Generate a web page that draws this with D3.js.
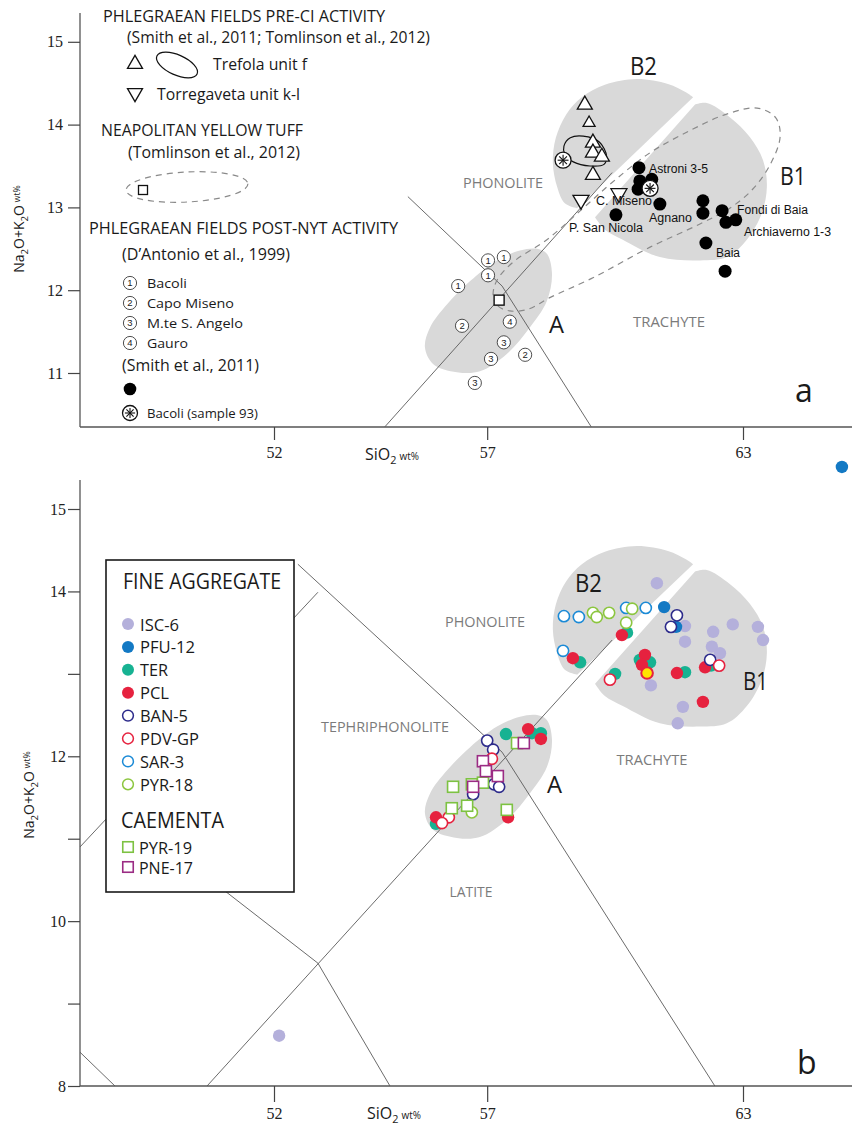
<!DOCTYPE html>
<html>
<head>
<meta charset="utf-8">
<script src="https://cdn.jsdelivr.net/npm/d3@7"></script>
<style>
  body { margin: 0; background: #fff; }
  svg { display: block; }
</style>
</head>
<body>
<svg id="chart" width="852" height="1127"></svg>
<script>
// ---------------- data (SiO2 wt%, Na2O+K2O wt%) ----------------

// panel a : Phlegraean Fields reference data
const trefolaUnitF = [[59.29,14.24],[59.39,14.02],[59.48,13.78],[59.48,13.66],[59.69,13.61],[59.48,13.39]];
const torregavetaKL = [[59.20,13.09],[60.09,13.17]];
const bacoliSample93 = [[58.78,13.57],[60.82,13.23]];
const smith2011 = [[60.56,13.48],[60.58,13.32],[60.86,13.34],[60.54,13.22],[61.05,13.04],[60.02,12.91],
  [62.06,13.08],[62.06,12.93],[62.51,12.96],[62.60,12.82],[62.83,12.85],[62.13,12.57],[62.58,12.23]];
const bacoliPostNYT = [[57.02,12.36],[57.39,12.40],[57.02,12.18],[56.32,12.05]];
const capoMiseno = [[56.41,11.57],[57.89,11.22]];
const monteSAngelo = [[57.39,11.37],[57.09,11.17],[56.71,10.88]];
const gauro = [[57.53,11.62]];
const nytSamples = [[57.28,11.88]];
const trefolaOutline = [[58.80,13.74],[58.95,13.84],[59.25,13.86],[59.63,13.79],[59.80,13.62],[59.74,13.52],
  [59.41,13.50],[59.02,13.55],[58.82,13.64]];
const nytOutline = [[57.14,11.94],[57.25,11.81],[57.53,11.75],[57.96,11.77],[58.47,11.91],[59.48,12.15],
  [60.82,12.52],[61.99,12.80],[62.69,12.99],[63.21,13.21],[63.63,13.51],[63.87,13.85],[63.77,14.08],
  [63.33,14.20],[62.58,14.12],[61.69,13.91],[60.82,13.66],[59.95,13.31],[59.25,12.99],[58.40,12.61],
  [57.61,12.34],[57.23,12.12]];

// compositional groups A, B1, B2 (shaded)
const groupA = [[58.40,12.44],[58.52,12.20],[58.40,11.87],[58.00,11.55],[57.46,11.23],[56.83,11.02],
  [56.29,11.01],[55.73,11.11],[55.54,11.31],[55.66,11.55],[56.06,11.83],[56.60,12.11],[57.23,12.36],
  [57.77,12.48],[58.17,12.50]];
const groupB1 = [[61.87,14.24],[59.53,12.88],[59.76,12.73],[60.18,12.61],[61.05,12.40],[61.99,12.36],
  [62.62,12.40],[63.09,12.61],[63.44,12.93],[63.56,13.25],[63.47,13.57],[63.16,13.85],[62.69,14.09],[62.15,14.26]];
const groupB2 = [[61.83,14.33],[59.11,12.99],[58.82,13.05],[58.64,13.25],[58.54,13.54],[58.61,13.84],
  [58.85,14.12],[59.22,14.33],[59.76,14.48],[60.51,14.55],[61.24,14.49],[61.66,14.39]];

// TAS field boundaries
const tasTopRise = [[54.60,10.35],[59.93,13.42]];
const tasTopFall = [[55.14,13.13],[57.35,12.05],[59.44,10.35]];
const tasBotRise = [[50.43,8],[59.93,13.41]];
const tasBotFall = [[52.56,14.33],[57.35,12.05],[62.34,8]];
const tasBotRiseLeft = [[47.45,10.90],[53.03,13.99]];
const tasBotFallMid = [[48.4,11.35],[53.03,9.49],[54.72,8]];
const tasBotCorner = [[47.45,8.41],[48.27,8]];

// panel b : fine aggregate samples
const isc6 = [[60.98,14.10],[61.64,13.58],[62.30,13.51],[62.76,13.60],[63.35,13.57],[63.47,13.41],
  [61.64,13.39],[62.27,13.33],[62.46,13.25],[60.84,12.86],[61.59,12.60],[61.47,12.40],[52.12,8.61]];
const pfu12 = [[61.15,13.81],[61.43,13.57],[65.32,15.51]];
const ter = [[60.28,13.50],[59.18,13.14],[60.58,13.17],[60.82,13.14],[60.00,13.00],[61.64,13.02],
  [62.25,13.10],[57.44,12.27],[58.05,12.28],[58.26,12.28],[55.80,11.18]];
const pcl = [[60.16,13.47],[59.01,13.19],[60.70,13.23],[60.63,13.11],[61.45,13.01],[62.11,13.08],
  [62.06,12.66],[57.96,12.33],[58.26,12.21],[55.80,11.26],[57.49,11.26]];
const pclYellow = [[60.75,13.01]];
const ban5 = [[61.45,13.71],[61.31,13.57],[62.23,13.17],[57.00,12.19],[57.14,12.08],[57.16,11.66],
  [57.28,11.63],[56.67,11.54]];
const pdvgp = [[59.88,12.93],[62.44,13.10],[57.11,11.97],[56.10,11.26],[55.94,11.19]];
const sar3 = [[58.80,13.70],[59.15,13.69],[60.26,13.80],[60.72,13.80],[58.78,13.28]];
const pyr18 = [[59.48,13.74],[59.57,13.69],[59.86,13.74],[60.40,13.79],[60.26,13.62],[56.64,11.32]];
// caementa
const pyr19 = [[57.70,12.16],[56.20,11.63],[56.64,11.66],[56.90,11.68],[56.17,11.37],[56.53,11.40],[57.46,11.35]];
const pne17 = [[57.86,12.16],[56.90,11.94],[56.97,11.82],[57.25,11.76],[56.67,11.63]];

const fineNames = ["ISC-6","PFU-12","TER","PCL","BAN-5","PDV-GP","SAR-3","PYR-18"];
const fineSeries = [isc6, pfu12, ter, pcl, ban5, pdvgp, sar3, pyr18];
const caementaNames = ["PYR-19","PNE-17"];
const caementaSeries = [pyr19, pne17];

const xTicks = [52, 57, 63];
const yTicksTop = [11, 12, 13, 14, 15];
const yTicksBot = [8, 9, 10, 11, 12, 13, 14, 15];
const yLabelsBot = [8, 10, 12, 14, 15];

// ---------------- styles ----------------
const fineColors = ["#b4b0db","#1379c4","#17b292","#e6223f","#2d2b8b","#e6223f","#1b8ad6","#8cc63f"];
const fineFilled = [true, true, true, true, false, false, false, false];
const caementaColors = ["#7dc242","#9b2c84"];
const SHADE = "#d9d9d9";
const LINE = "#5a5a5a";
const REGION_TXT = "#7b7b7b";
const SANS = "'Open Sans', 'Noto Sans', sans-serif";
const ARIAL = "'Liberation Sans', Arial, sans-serif";
const SERIF = "'Liberation Serif', 'Times New Roman', serif";

const svg = d3.select("#chart");

const xTop = d3.scaleLinear().domain([52, 63]).range([274, 743]);
const yTop = d3.scaleLinear().domain([11, 15]).range([373, 41.8]);
const xBot = d3.scaleLinear().domain([52, 63]).range([274, 743]);
const yBot = d3.scaleLinear().domain([8, 15]).range([1086, 509]);

function txt(g, s, x, y, o = {}) {
  const t = g.append("text").attr("x", x).attr("y", y)
    .attr("font-family", o.family || SANS)
    .attr("font-size", o.size || 14)
    .attr("fill", o.fill || "#1a1a1a")
    .attr("text-anchor", o.anchor || "start")
    .text(s);
  if (o.width) t.attr("textLength", o.width).attr("lengthAdjust", "spacingAndGlyphs");
  return t;
}

function closedPath(pts, xs, ys) {
  return d3.line().x(d => xs(d[0])).y(d => ys(d[1])).curve(d3.curveCatmullRomClosed.alpha(0.5))(pts);
}
// region bounded by one straight cut (first two points) and a smooth curve
function cutPath(pts, xs, ys) {
  const corner = pts[0];
  const rest = pts.slice(1).concat([corner]);
  const p = d3.line().x(d => xs(d[0])).y(d => ys(d[1])).curve(d3.curveCatmullRom.alpha(0.5))(rest);
  return `M${xs(corner[0])},${ys(corner[1])}L` + p.slice(1) + "Z";
}
function polyline(g, pts, xs, ys) {
  g.append("path").attr("d", d3.line().x(d => xs(d[0])).y(d => ys(d[1]))(pts))
    .attr("fill", "none").attr("stroke", LINE).attr("stroke-width", 0.9);
}
function triPath(s, down) {
  const h = s * 0.866, k = down ? -1 : 1;
  return `M0,${-k * h * 2 / 3}L${s / 2},${k * h / 3}L${-s / 2},${k * h / 3}Z`;
}
function triangle(g, x, y, s, down) {
  g.append("path").attr("transform", `translate(${x},${y})`).attr("d", triPath(s, down))
    .attr("fill", "#fff").attr("stroke", "#111").attr("stroke-width", 1.3);
}
function starCircle(g, x, y, r) {
  const s = g.append("g").attr("transform", `translate(${x},${y})`);
  s.append("circle").attr("r", r).attr("fill", "#fff").attr("stroke", "#111").attr("stroke-width", 1.3);
  [0, 45, 90, 135].forEach(a => {
    const c = Math.cos(a * Math.PI / 180) * r * 0.68, sn = Math.sin(a * Math.PI / 180) * r * 0.68;
    s.append("line").attr("x1", -c).attr("y1", -sn).attr("x2", c).attr("y2", sn)
      .attr("stroke", "#111").attr("stroke-width", 1.1);
  });
}
function circledNum(g, x, y, n) {
  g.append("circle").attr("cx", x).attr("cy", y).attr("r", 6.6)
    .attr("fill", "#fff").attr("stroke", "#222").attr("stroke-width", 0.8);
  g.append("text").attr("x", x).attr("y", y).attr("dy", "0.36em").attr("text-anchor", "middle")
    .attr("font-family", ARIAL).attr("font-size", 9.5).attr("fill", "#222").text(n);
}
function square(g, x, y, s, color, sw) {
  g.append("rect").attr("x", x - s / 2).attr("y", y - s / 2).attr("width", s).attr("height", s)
    .attr("fill", "#fff").attr("stroke", color).attr("stroke-width", sw);
}
function chemText(g, x, y, parts, size, anchor, transform) {
  const t = g.append("text").attr("x", x).attr("y", y).attr("font-family", SANS)
    .attr("font-size", size).attr("fill", "#1a1a1a").attr("text-anchor", anchor || "start");
  if (transform) t.attr("transform", transform);
  parts.forEach(p => {
    const ts = t.append("tspan").text(p[0]);
    if (p[1] === "sub") ts.attr("font-size", size * 0.68).attr("dy", size * 0.28);
    else if (p[1] === "up") ts.attr("font-size", size * 0.62).attr("dy", -size * 0.28).attr("dx", 3);
    else if (p[1] === "back") ts.attr("dy", -size * 0.28);
  });
  return t;
}

// ====================== PANEL a ======================
const gA = svg.append("g");

// shaded groups
gA.append("path").attr("d", closedPath(groupA, xTop, yTop)).attr("fill", SHADE);
gA.append("path").attr("d", cutPath(groupB1, xTop, yTop)).attr("fill", SHADE);
gA.append("path").attr("d", cutPath(groupB2, xTop, yTop)).attr("fill", SHADE);

// TAS boundaries
polyline(gA, tasTopRise, xTop, yTop);
polyline(gA, tasTopFall, xTop, yTop);

// NYT field and Trefola field
gA.append("path").attr("d", closedPath(nytOutline, xTop, yTop)).attr("fill", "none")
  .attr("stroke", "#8a8a8a").attr("stroke-width", 1.2).attr("stroke-dasharray", "6,5");
gA.append("path").attr("d", closedPath(trefolaOutline, xTop, yTop)).attr("fill", "none")
  .attr("stroke", "#111").attr("stroke-width", 1.2);

// axes
gA.append("line").attr("x1", 80).attr("x2", 852).attr("y1", 427).attr("y2", 427)
  .attr("stroke", "#555").attr("stroke-width", 1.3);
gA.append("line").attr("x1", 80).attr("x2", 80).attr("y1", 13).attr("y2", 427)
  .attr("stroke", "#555").attr("stroke-width", 1.3);
const axXTop = gA.append("g").attr("transform", "translate(0,427)")
  .call(d3.axisBottom(xTop).tickValues(xTicks).tickSize(13).tickPadding(7).tickSizeOuter(0)
    .tickFormat(d3.format("d")));
const axYTop = gA.append("g").attr("transform", "translate(80,0)")
  .call(d3.axisLeft(yTop).tickValues(yTicksTop).tickSize(12).tickPadding(5).tickSizeOuter(0)
    .tickFormat(d3.format("d")));
[axXTop, axYTop].forEach(a => {
  a.select(".domain").remove();
  a.selectAll("line").attr("stroke", "#444").attr("stroke-width", 1.2);
  a.selectAll("text").attr("font-family", SERIF).attr("font-size", 16).attr("fill", "#222");
});

// D'Antonio et al. 1999 samples
bacoliPostNYT.forEach(d => circledNum(gA, xTop(d[0]), yTop(d[1]), "1"));
capoMiseno.forEach(d => circledNum(gA, xTop(d[0]), yTop(d[1]), "2"));
monteSAngelo.forEach(d => circledNum(gA, xTop(d[0]), yTop(d[1]), "3"));
gauro.forEach(d => circledNum(gA, xTop(d[0]), yTop(d[1]), "4"));
nytSamples.forEach(d => square(gA, xTop(d[0]), yTop(d[1]), 10, "#111", 1.4));

// Smith et al. 2011
gA.selectAll(".smith").data(smith2011).join("circle")
  .attr("cx", d => xTop(d[0])).attr("cy", d => yTop(d[1])).attr("r", 6.5).attr("fill", "#000");
bacoliSample93.forEach(d => starCircle(gA, xTop(d[0]), yTop(d[1]), 8));
trefolaUnitF.forEach((d, i) => triangle(gA, xTop(d[0]), yTop(d[1]), i === 1 ? 12 : 15, false));
torregavetaKL.forEach(d => triangle(gA, xTop(d[0]), yTop(d[1]), 16, true));

// callouts
[["Astroni 3-5", 649, 173, 59], ["C. Miseno", 596, 205, 56], ["Agnano", 649, 222, 43],
 ["P. San Nicola", 569, 232, 74], ["Fondi di Baia", 737, 214, 71], ["Archiaverno 1-3", 744, 236, 87],
 ["Baia", 716, 257, 24]].forEach(c => txt(gA, c[0], c[1], c[2], { family: ARIAL, size: 12.5, width: c[3], fill: "#111" }));

// region names
txt(gA, "PHONOLITE", 503, 188, { size: 15, anchor: "middle", width: 80, fill: REGION_TXT });
txt(gA, "TRACHYTE", 669, 327, { size: 15, anchor: "middle", width: 72, fill: REGION_TXT });
txt(gA, "B2", 630, 75, { size: 25, width: 27 });
txt(gA, "B1", 780, 185, { size: 25, width: 26 });
txt(gA, "A", 549, 333, { size: 23, width: 15 });
txt(gA, "a", 795, 402, { size: 32 });

// legend of panel a
txt(gA, "PHLEGRAEAN FIELDS PRE-CI ACTIVITY", 103, 22, { size: 15.5, width: 282 });
txt(gA, "(Smith et al., 2011; Tomlinson et al., 2012)", 127, 43, { size: 15.5, width: 303 });
triangle(gA, 135, 64, 15, false);
gA.append("ellipse").attr("cx", 177).attr("cy", 65).attr("rx", 22).attr("ry", 10)
  .attr("transform", "rotate(24,177,65)").attr("fill", "none").attr("stroke", "#111").attr("stroke-width", 1.2);
txt(gA, "Trefola unit f", 213, 70, { size: 16, width: 94 });
triangle(gA, 135, 93, 15, true);
txt(gA, "Torregaveta unit k-l", 157, 100, { size: 16, width: 143 });
txt(gA, "NEAPOLITAN YELLOW TUFF", 101, 136, { size: 16, width: 202 });
txt(gA, "(Tomlinson et al., 2012)", 128, 158, { size: 16, width: 172 });
gA.append("ellipse").attr("cx", 187).attr("cy", 187).attr("rx", 61).attr("ry", 15)
  .attr("transform", "rotate(-3,187,187)").attr("fill", "none")
  .attr("stroke", "#8a8a8a").attr("stroke-width", 1.2).attr("stroke-dasharray", "6,5");
square(gA, 143, 190, 9, "#111", 1.3);
txt(gA, "PHLEGRAEAN FIELDS POST-NYT ACTIVITY", 89, 234, { size: 16, width: 309 });
txt(gA, "(D\u2019Antonio et al., 1999)", 122, 260, { size: 16, width: 168 });
[["1", "Bacoli", 283, 40], ["2", "Capo Miseno", 303, 87], ["3", "M.te S. Angelo", 323, 96], ["4", "Gauro", 343, 41]]
  .forEach(r => { circledNum(gA, 130, r[2], r[0]); txt(gA, r[1], 147, r[2] + 4.5, { size: 13.5, width: r[3] }); });
txt(gA, "(Smith et al., 2011)", 122, 371, { size: 16, width: 137 });
gA.append("circle").attr("cx", 130).attr("cy", 389).attr("r", 6.3).attr("fill", "#000");
starCircle(gA, 130, 413, 7.5);
txt(gA, "Bacoli (sample 93)", 147, 418, { size: 13.5, width: 111 });

// axis titles
chemText(gA, 365, 460, [["SiO"], ["2", "sub"], ["wt%", "up"]], 16);
chemText(gA, 0, 0, [["Na"], ["2", "sub"], ["O+K", "back"], ["2", "sub"], ["O", "back"], ["wt%", "up"]], 14,
  "middle", "translate(24,229) rotate(-90)");

// ====================== PANEL b ======================
const gB = svg.append("g");

gB.append("path").attr("d", closedPath(groupA, xBot, yBot)).attr("fill", SHADE);
gB.append("path").attr("d", cutPath(groupB1, xBot, yBot)).attr("fill", SHADE);
gB.append("path").attr("d", cutPath(groupB2, xBot, yBot)).attr("fill", SHADE);

[tasBotRise, tasBotFall, tasBotRiseLeft, tasBotFallMid, tasBotCorner].forEach(l => polyline(gB, l, xBot, yBot));

gB.append("line").attr("x1", 80).attr("x2", 852).attr("y1", 1086).attr("y2", 1086)
  .attr("stroke", "#555").attr("stroke-width", 1.3);
gB.append("line").attr("x1", 80).attr("x2", 80).attr("y1", 480).attr("y2", 1086)
  .attr("stroke", "#555").attr("stroke-width", 1.3);
const axXBot = gB.append("g").attr("transform", "translate(0,1086)")
  .call(d3.axisBottom(xBot).tickValues(xTicks).tickSize(16).tickPadding(6).tickSizeOuter(0)
    .tickFormat(d3.format("d")));
const axYBot = gB.append("g").attr("transform", "translate(80,0)")
  .call(d3.axisLeft(yBot).tickValues(yTicksBot).tickSize(12).tickPadding(2).tickSizeOuter(0)
    .tickFormat(v => yLabelsBot.includes(v) ? d3.format("d")(v) : ""));
[axXBot, axYBot].forEach(a => {
  a.select(".domain").remove();
  a.selectAll("line").attr("stroke", "#444").attr("stroke-width", 1.2);
  a.selectAll("text").attr("font-family", SERIF).attr("font-size", 16).attr("fill", "#222");
});

// sample markers
fineSeries.forEach((pts, i) => {
  gB.selectAll(null).data(pts).join("circle")
    .attr("cx", d => xBot(d[0])).attr("cy", d => yBot(d[1]))
    .attr("r", fineFilled[i] ? 6.2 : 5.6)
    .attr("fill", fineFilled[i] ? fineColors[i] : "#fff")
    .attr("stroke", fineFilled[i] ? "none" : fineColors[i])
    .attr("stroke-width", 1.6);
});
gB.selectAll(null).data(pclYellow).join("circle")
  .attr("cx", d => xBot(d[0])).attr("cy", d => yBot(d[1])).attr("r", 5.8)
  .attr("fill", "#ffe600").attr("stroke", fineColors[3]).attr("stroke-width", 2);
caementaSeries.forEach((pts, i) => {
  pts.forEach(d => square(gB, xBot(d[0]), yBot(d[1]), 11, caementaColors[i], 1.6));
});

// region names
txt(gB, "PHONOLITE", 485, 627, { size: 15, anchor: "middle", width: 80, fill: REGION_TXT });
txt(gB, "TEPHRIPHONOLITE", 385, 732, { size: 15, anchor: "middle", width: 128, fill: REGION_TXT });
txt(gB, "TRACHYTE", 652, 765, { size: 15, anchor: "middle", width: 71, fill: REGION_TXT });
txt(gB, "LATITE", 471, 897, { size: 15, anchor: "middle", width: 43, fill: REGION_TXT });
txt(gB, "B2", 575, 592, { size: 25, width: 27 });
txt(gB, "B1", 743, 690, { size: 25, width: 25 });
txt(gB, "A", 547, 793, { size: 23, width: 15 });
txt(gB, "b", 797, 1074, { size: 32 });

// legend box
const lg = gB.append("g");
lg.append("rect").attr("x", 106).attr("y", 560).attr("width", 188).attr("height", 332)
  .attr("fill", "#fff").attr("stroke", "#1a1a1a").attr("stroke-width", 1.6);
txt(lg, "FINE AGGREGATE", 123, 589, { size: 22, width: 158 });
const fineWidths = [39, 55, 28, 29, 48, 59, 44, 53];
fineNames.forEach((n, i) => {
  const cy = 624 + i * 22.9;
  lg.append("circle").attr("cx", 128).attr("cy", cy).attr("r", fineFilled[i] ? 6 : 5.4)
    .attr("fill", fineFilled[i] ? fineColors[i] : "#fff")
    .attr("stroke", fineFilled[i] ? "none" : fineColors[i]).attr("stroke-width", 1.5);
  txt(lg, n, 140, cy + 6.5, { size: 16, width: fineWidths[i] });
});
txt(lg, "CAEMENTA", 121, 828, { size: 22, width: 103 });
const caeWidths = [53, 54];
caementaNames.forEach((n, i) => {
  const cy = 847 + i * 20;
  square(lg, 128, cy, 10.5, caementaColors[i], 1.6);
  txt(lg, n, 139, cy + 6.5, { size: 16, width: caeWidths[i] });
});

// axis titles
chemText(gB, 367, 1119, [["SiO"], ["2", "sub"], ["wt%", "up"]], 16);
chemText(gB, 0, 0, [["Na"], ["2", "sub"], ["O+K", "back"], ["2", "sub"], ["O", "back"], ["wt%", "up"]], 14,
  "middle", "translate(34,795) rotate(-90)");
</script>
</body>
</html>
